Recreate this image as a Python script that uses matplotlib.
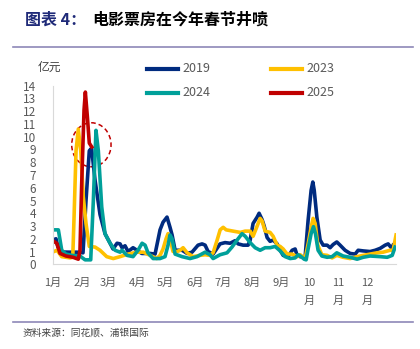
import matplotlib
matplotlib.use("Agg")
import matplotlib.pyplot as plt
from matplotlib.patches import Ellipse
from matplotlib.lines import Line2D

plt.rcParams['font.family'] = ['Noto Sans CJK SC', 'DejaVu Sans']

# day of year -> box office (亿元)
x2019 = [0, 3.5, 5.6, 10.9, 18.4, 25.8, 32.2, 35.4, 38.9, 41.3, 45, 50.3, 55.6, 61, 64.1, 68.4,
         71.6, 73.7, 76.9, 80.1, 85.4, 94.7, 103.5, 108.8, 114.1, 117.3, 121.5, 124.7, 126.9,
         130.1, 137.5, 142.9, 148.1, 154.5, 158.8, 162, 165.2, 170.5, 177.9, 183.2, 188.6,
         193.9, 197.1, 202.4, 207.7, 209.9, 213, 217.3, 219.4, 222.6, 224.8, 227.9, 231.1,
         234.3, 238.6, 241.8, 245, 250.3, 254.5, 257.7, 259.8, 263, 268.3, 271.5, 274.7,
         276.5, 278, 280.8, 284.3, 287.5, 291.7, 294.9, 298.1, 302, 305.5, 310.8, 316.2,
         321.5, 324.7, 330, 337.4, 342.8, 348.1, 353.4, 356.6, 360.5, 361.9]
y2019 = [1.9, 2.0, 1.35, 0.96, 0.95, 0.95, 0.9, 5.0, 8.9, 9.1, 6.6, 3.9, 2.4, 1.65, 1.2, 1.65,
         1.6, 1.3, 1.45, 1.0, 1.3, 0.85, 0.85, 0.8, 2.7, 3.3, 3.7, 2.9, 2.3,
         1.1, 1.1, 0.85, 0.95, 1.5, 1.6, 1.5, 1.0, 0.8, 1.6, 1.7, 1.65,
         1.85, 1.6, 1.5, 1.5, 1.9, 3.2, 3.7, 4.0, 3.5, 3.0, 2.1, 1.8,
         1.9, 1.6, 1.1, 0.7, 0.6, 1.1, 1.2, 0.7, 0.6, 0.55, 3.45, 5.8,
         6.45, 5.8, 3.7, 1.9, 1.5, 1.5, 1.3, 1.55, 1.75, 1.5, 1.1, 0.85,
         0.8, 1.1, 1.05, 1.0, 1.1, 1.25, 1.5, 1.6, 1.25, 1.5]

x2023 = [0, 4.6, 9.6, 14.1, 18.4, 21.3, 22.7, 24.8, 27.2, 29.8, 32.5, 35.4, 38.9, 45, 50.3,
         57.4, 64.4, 71.6, 80.1, 89.3, 96.4, 103.5, 110.6, 114.1, 117.3, 120.5, 122.6, 124.7,
         127.9, 132.2, 135.4, 138.6, 142.9, 149.2, 156.7, 162, 167.3, 170.5, 174.8, 178,
         181.2, 184.4, 191.8, 199.3, 204.6, 209.9, 213, 216.3, 220.5, 222.6, 225.8, 231.1,
         234.3, 238.6, 241.8, 245, 249.2, 254.5, 259.8, 263, 268.3, 271.5, 274.7, 276.8,
         279, 281.8, 286.1, 291.7, 297, 302, 308.7, 316.2, 323.6, 330, 337.4, 344.8, 351.2,
         358.7, 361.9, 365]
y2023 = [0.96, 1.1, 0.6, 0.55, 0.5, 0.55, 3.7, 8.9, 10.6, 8.9, 5.3, 3.2, 1.4, 1.35, 1.1,
         0.6, 0.45, 0.6, 0.8, 0.95, 0.95, 0.7, 0.45, 0.7, 1.2, 2.0, 2.4, 2.0,
         1.0, 1.0, 1.1, 1.3, 0.9, 0.6, 0.7, 0.75, 0.7, 0.9, 1.9, 2.7,
         2.9, 2.7, 2.6, 2.5, 2.6, 2.6, 2.2, 2.8, 3.6, 3.4, 2.6, 2.5,
         2.2, 1.5, 1.4, 1.2, 0.8, 0.8, 0.6, 0.75, 0.45, 1.6, 2.9, 3.6,
         3.2, 1.5, 0.75, 0.7, 0.5, 0.7, 0.55, 0.45, 0.6, 0.7, 0.8, 0.9, 0.95,
         1.1, 1.1, 2.3]

x2024 = [0, 6, 9.6, 14.1, 20.5, 29, 34.4, 40.4, 43.2, 46, 48.5, 52.1, 55.6, 61, 66.3, 71.6,
         73.7, 79, 85.4, 90.7, 95, 98.2, 101.3, 106.7, 114.1, 119.4, 122.6, 124.7, 126.9,
         130.1, 137.5, 146, 153.4, 162, 167.3, 170.5, 177.9, 185.3, 190.6, 196, 201.3, 204.6,
         209.9, 215.2, 220.5, 225.8, 231.1, 236.4, 241.8, 247.1, 252.4, 257.7, 260.9, 264.1,
         267.3, 269.4, 271.5, 274.7, 277.2, 279.3, 282.1, 286.1, 291.7, 297, 302, 308.7,
         316.2, 323.6, 330, 337.4, 348.1, 355.6, 360.9, 364]
y2024 = [2.7, 2.7, 1.1, 0.8, 0.7, 0.65, 0.35, 0.35, 5.0, 10.5, 8.9, 4.5, 2.4, 1.65, 1.1, 0.95,
         1.1, 0.7, 0.6, 1.1, 1.65, 1.5, 0.9, 0.45, 0.45, 0.6, 1.5, 2.3, 2.0,
         0.8, 0.6, 0.45, 0.6, 0.95, 0.75, 0.45, 0.75, 0.9, 1.35, 1.9, 2.4, 2.2,
         1.7, 1.3, 1.1, 1.3, 1.3, 1.4, 1.05, 0.6, 0.45, 0.5, 0.75, 0.6,
         0.4, 0.35, 1.2, 2.4, 2.95, 2.4, 1.1, 0.65, 0.55, 0.6, 0.9, 0.65,
         0.55, 0.4, 0.55, 0.65, 0.6, 0.55, 0.7, 1.35]

x2025 = [0, 4.3, 7.8, 14.1, 21.6, 27.2, 29, 30.8, 33.3, 34.7, 36.8, 38.9, 41.5]
y2025 = [1.85, 1.65, 0.85, 0.65, 0.55, 0.4, 1.1, 6.3, 12.1, 13.5, 11.6, 9.5, 9.2]

month_pos = [0, 31, 59, 90, 120, 151, 181, 212, 243, 273, 304, 334]
month_labels = ['1月', '2月', '3月', '4月', '5月', '6月', '7月', '8月', '9月',
                '10\n月', '11\n月', '12\n月']

c2019 = '#002B7F'
c2023 = '#FFC000'
c2024 = '#00A09A'
c2025 = '#C00000'
gray = '#595959'

fig = plt.figure(figsize=(4.2, 3.49), dpi=100)
ax = fig.add_axes([0.1255, 0.2427, 0.8175, 0.5117])

lw = 2.6
ax.plot(x2019, y2019, color=c2019, lw=lw, solid_joinstyle='round')
ax.plot(x2023, y2023, color=c2023, lw=lw, solid_joinstyle='round')
ax.plot(x2024, y2024, color=c2024, lw=lw, solid_joinstyle='round')
ax.plot(x2025, y2025, color=c2025, lw=lw, solid_joinstyle='round')

# highlight circle around the spring festival peak
ax.add_patch(Ellipse((41.1, 9.37), 41.8, 3.45, fill=False, ec=c2025,
                     ls=(0, (3, 2)), lw=1.1))

ax.set_xlim(0, 365)
ax.set_ylim(0, 14)
ax.set_yticks(range(0, 15))
ax.set_xticks(month_pos)
ax.set_xticklabels(month_labels, linespacing=1.9, va='top')
ax.tick_params(length=0, labelsize=8, colors=gray, pad=12)
ax.tick_params(axis='x', pad=10)
for lab in ax.get_yticklabels():
    lab.set_fontsize(8.5)
for s in ['top', 'right']:
    ax.spines[s].set_visible(False)
ax.spines['left'].set_color('#D9D9D9')
ax.spines['bottom'].set_color('#D9D9D9')
ax.spines['left'].set_linewidth(0.8)
ax.spines['bottom'].set_linewidth(0.8)

fig.text(38 / 420, 1 - 67 / 349, '亿元', fontsize=8.5, color='#404040', va='center')

# legend drawn manually to match the two-column layout
leg = [(147, 69, c2019, '2019'), (271, 69, c2023, '2023'),
       (147, 93, c2024, '2024'), (271, 93, c2025, '2025')]
for px, py, col, lab in leg:
    fig.add_artist(Line2D([px / 420, (px + 31) / 420], [1 - py / 349] * 2,
                          color=col, lw=3, transform=fig.transFigure))
    fig.text((px + 35) / 420, 1 - py / 349, lab, fontsize=9, color=gray, va='center')

# title and frame lines
fig.text(25 / 420, 1 - 19.5 / 349, '图表 4：', fontsize=11.5, fontweight='bold',
         color='#1F2A78', va='center')
fig.text(92 / 420, 1 - 19.5 / 349, '电影票房在今年春节井喷', fontsize=11.5,
         fontweight='bold', color='black', va='center')
for yy in [47, 322]:
    fig.add_artist(Line2D([13 / 420, 413 / 420], [1 - yy / 349] * 2,
                          color='#8E88B8', lw=1.2, transform=fig.transFigure))
fig.text(23 / 420, 1 - 333 / 349, '资料来源：同花顺、浦银国际', fontsize=7,
         color='#404040', va='center')

fig.savefig('out.png', dpi=100)
